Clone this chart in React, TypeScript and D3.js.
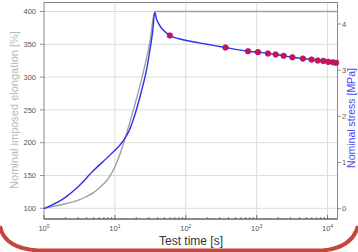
import React, { useEffect, useRef } from 'react';
import * as d3 from 'd3';

// imposed elongation (grey, left axis)
const elongTime = [1, 2, 3, 4, 5, 6, 8, 10, 12, 14.6, 19.1, 25, 31, 36.6, 13800];
const elongValue = [100, 107, 112, 118, 124, 131, 145, 163, 185, 214, 258, 306, 352, 400, 400];

// measured stress (blue, right axis)
const stressTime = [1, 1.98, 3, 4.95, 8.5, 13.1, 15.9, 18.1, 23.8, 27.9, 31.1, 33.9, 36.6, 38.6, 40.7, 44, 48, 54, 59.6, 80, 120, 200, 363, 754, 1042, 1443, 1852, 2400, 3190, 4490, 5950, 7260, 8700, 10200, 11900, 13800];
const stressValue = [0, 0.24, 0.47, 0.82, 1.16, 1.47, 1.69, 1.92, 2.56, 3.0, 3.42, 3.8, 4.25, 4.11, 4.03, 3.94, 3.87, 3.8, 3.75, 3.68, 3.62, 3.56, 3.49, 3.41, 3.39, 3.36, 3.34, 3.31, 3.28, 3.25, 3.23, 3.21, 3.2, 3.18, 3.17, 3.16];

// sampled points (red markers)
const markerTime = [59.6, 363, 754, 1042, 1443, 1852, 2400, 3190, 4490, 5950, 7260, 8700, 10200, 11900, 13200];
const markerValue = [3.75, 3.49, 3.41, 3.39, 3.36, 3.34, 3.31, 3.28, 3.25, 3.23, 3.21, 3.2, 3.18, 3.17, 3.16];

const leftTicks = [100, 150, 200, 250, 300, 350, 400];
const rightTicks = [0, 1, 2, 3, 4];
const xMajor = [1, 10, 100, 1000, 10000];

const App = () => {
  const svgRef = useRef<SVGSVGElement>(null);

  useEffect(() => {
    const svg = d3.select(svgRef.current);
    svg.selectAll('*').remove();

    const left = 44, right = 337.5, top = 2.5, bottom = 219;
    const font = 'Liberation Sans, Arial, sans-serif';

    const x = d3.scaleLog().domain([1, 13800]).range([left, right]);
    const yL = d3.scaleLinear().domain([83.7, 413.7]).range([bottom, top]);
    const yR = d3.scaleLinear().domain([-0.223, 4.465]).range([bottom, top]);

    // grid
    const grid = svg.append('g').attr('stroke', '#dcdcdc').attr('stroke-width', 1);
    xMajor.slice(1).forEach(t => {
      grid.append('line').attr('x1', x(t)).attr('x2', x(t)).attr('y1', top).attr('y2', bottom);
    });
    leftTicks.forEach(v => {
      grid.append('line').attr('x1', left).attr('x2', right).attr('y1', yL(v)).attr('y2', yL(v));
    });

    // frame
    svg.append('rect')
      .attr('x', left).attr('y', top)
      .attr('width', right - left).attr('height', bottom - top)
      .attr('fill', 'none').attr('stroke', '#8a8a8a').attr('stroke-width', 1);
    svg.append('line')
      .attr('x1', left).attr('x2', right).attr('y1', bottom).attr('y2', bottom)
      .attr('stroke', '#555').attr('stroke-width', 1.2);

    // x ticks (inward) + minor ticks
    const xt = svg.append('g').attr('stroke', '#555').attr('stroke-width', 0.8);
    xMajor.forEach(t => {
      xt.append('line').attr('x1', x(t)).attr('x2', x(t)).attr('y1', bottom).attr('y2', bottom - 4);
      for (let k = 2; k < 10; k++) {
        const m = t * k;
        if (m > 13800) break;
        xt.append('line').attr('x1', x(m)).attr('x2', x(m)).attr('y1', bottom).attr('y2', bottom - 2);
      }
    });
    xMajor.forEach((t, i) => {
      const txt = svg.append('text')
        .attr('x', x(t)).attr('y', 231)
        .attr('text-anchor', 'middle')
        .attr('font-family', font).attr('font-size', 7.5).attr('fill', '#555');
      txt.append('tspan').text('10');
      txt.append('tspan').attr('dy', -3.5).attr('font-size', 5).text(String(i));
    });

    // left axis
    leftTicks.forEach(v => {
      svg.append('line').attr('x1', left - 4).attr('x2', left).attr('y1', yL(v)).attr('y2', yL(v))
        .attr('stroke', '#777').attr('stroke-width', 0.8);
      svg.append('text').attr('x', 36).attr('y', yL(v) + 2.7)
        .attr('text-anchor', 'end')
        .attr('font-family', font).attr('font-size', 7.5).attr('fill', '#555')
        .text(v);
    });

    // right axis
    rightTicks.forEach(v => {
      svg.append('line').attr('x1', right).attr('x2', right + 3.5).attr('y1', yR(v)).attr('y2', yR(v))
        .attr('stroke', '#777').attr('stroke-width', 0.8);
      svg.append('text').attr('x', 342).attr('y', yR(v) + 2.7)
        .attr('font-family', font).attr('font-size', 7.5).attr('fill', '#555')
        .text(v);
    });

    // curves
    const elongLine = d3.line<number>()
      .x((_, i) => x(elongTime[i]))
      .y(d => yL(d))
      .curve(d3.curveMonotoneX);
    svg.append('path')
      .attr('d', elongLine(elongValue))
      .attr('fill', 'none').attr('stroke', '#a0a0a0').attr('stroke-width', 1.4);

    const stressLine = d3.line<number>()
      .x((_, i) => x(stressTime[i]))
      .y(d => yR(d))
      .curve(d3.curveMonotoneX);
    svg.append('path')
      .attr('d', stressLine(stressValue))
      .attr('fill', 'none').attr('stroke', '#2f2ff0').attr('stroke-width', 1.4);

    svg.selectAll('.marker')
      .data(markerValue)
      .enter()
      .append('circle')
      .attr('class', 'marker')
      .attr('cx', (_, i) => x(markerTime[i]))
      .attr('cy', d => yR(d))
      .attr('r', 2.8)
      .attr('fill', '#d3124a')
      .attr('stroke', '#7a1a8a')
      .attr('stroke-width', 0.6);

    // axis labels
    svg.append('text')
      .attr('x', 191).attr('y', 245)
      .attr('text-anchor', 'middle')
      .attr('font-family', font).attr('font-size', 12).attr('fill', '#333')
      .text('Test time [s]');

    svg.append('text')
      .attr('transform', 'translate(18, 110) rotate(-90)')
      .attr('text-anchor', 'middle')
      .attr('font-family', font).attr('font-size', 11).attr('fill', '#b8b8b8')
      .text('Nominal imposed elongation [%]');

    svg.append('text')
      .attr('transform', 'translate(355, 118) rotate(-90)')
      .attr('text-anchor', 'middle')
      .attr('font-family', font).attr('font-size', 10.5).attr('fill', '#4a4af0')
      .text('Nominal stress [MPa]');

    // slide frame at the bottom
    svg.append('path')
      .attr('d', 'M0,226 Q4,248 38,250.5 L322,250.5 Q352,248 358,226')
      .attr('fill', 'none').attr('stroke', '#c4463c').attr('stroke-width', 4);
  }, []);

  return (
    <svg
      ref={svgRef}
      width={358}
      height={252}
      style={{ position: 'absolute', left: 0, top: 0, background: '#fff' }}
    />
  );
};

export default App;
